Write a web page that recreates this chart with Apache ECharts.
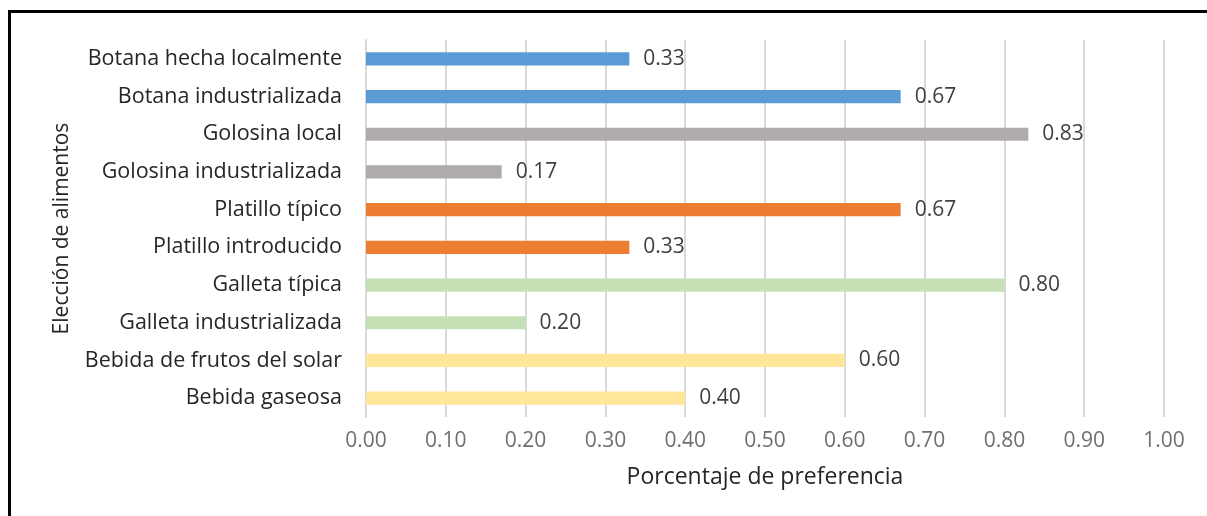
<!DOCTYPE html>
<html>
<head>
<meta charset="utf-8">
<script src="https://cdn.jsdelivr.net/npm/echarts@6/dist/echarts.min.js"></script>
<style>
  html, body { margin: 0; padding: 0; background: #fff; }
  #wrap { position: relative; width: 1207px; height: 516px; overflow: hidden; }
  #chart { position: absolute; left: 0; top: 0; width: 1207px; height: 516px; }
  #frame { position: absolute; left: 8px; top: 10px; right: -10px; bottom: -10px;
           border-top: 3px solid #000; border-left: 3px solid #000; pointer-events: none; }
</style>
</head>
<body>
<div id="wrap">
  <div id="chart"></div>
  <div id="frame"></div>
</div>
<script>
// Food choices, listed top to bottom
const categories = [
  'Botana hecha localmente',
  'Botana industrializada',
  'Golosina local',
  'Golosina industrializada',
  'Platillo típico',
  'Platillo introducido',
  'Galleta típica',
  'Galleta industrializada',
  'Bebida de frutos del solar',
  'Bebida gaseosa'
];
const preference = [0.33, 0.67, 0.83, 0.17, 0.67, 0.33, 0.80, 0.20, 0.60, 0.40];
// one colour per food group (pairs of rows)
const barColors = [
  '#5b9bd5', '#5b9bd5',
  '#afabab', '#afabab',
  '#ed7d31', '#ed7d31',
  '#c5e0b4', '#c5e0b4',
  '#ffe699', '#ffe699'
];
const xTicks = [0, 0.1, 0.2, 0.3, 0.4, 0.5, 0.6, 0.7, 0.8, 0.9, 1.0];

const FONT = '"Open Sans", sans-serif';
const chart = echarts.init(document.getElementById('chart'), null, { renderer: 'canvas' });

chart.setOption({
  animation: false,
  backgroundColor: '#ffffff',
  grid: { left: 366, right: 43, top: 40, bottom: 99, containLabel: false },
  xAxis: {
    type: 'value',
    min: xTicks[0],
    max: xTicks[xTicks.length - 1],
    interval: 0.1,
    name: 'Porcentaje de preferencia',
    nameLocation: 'middle',
    nameGap: 49,
    nameTextStyle: { fontFamily: FONT, fontSize: 23, color: '#262626' },
    axisLine: { show: false },
    axisTick: { show: false },
    axisLabel: {
      margin: 14,
      fontFamily: FONT, fontSize: 21, color: '#6f6f6f',
      formatter: v => v.toFixed(2)
    },
    splitLine: { show: true, lineStyle: { color: '#d9d9d9', width: 2 } }
  },
  yAxis: {
    type: 'category',
    data: categories,
    inverse: true,
    name: 'Elección de alimentos',
    nameLocation: 'middle',
    nameGap: 293,
    nameRotate: 90,
    nameTextStyle: { fontFamily: FONT, fontSize: 21, color: '#262626' },
    axisLine: { show: true, lineStyle: { color: '#d9d9d9', width: 2 } },
    axisTick: { show: false },
    axisLabel: { margin: 24, fontFamily: FONT, fontSize: 21.5, color: '#262626' },
    splitLine: { show: false }
  },
  series: [{
    type: 'bar',
    data: preference.map((v, i) => ({ value: v, itemStyle: { color: barColors[i] } })),
    barWidth: '35%',
    label: {
      show: true,
      position: 'right',
      distance: 14,
      fontFamily: FONT, fontSize: 21, color: '#404040',
      formatter: p => p.value.toFixed(2)
    }
  }]
});
</script>
</body>
</html>
